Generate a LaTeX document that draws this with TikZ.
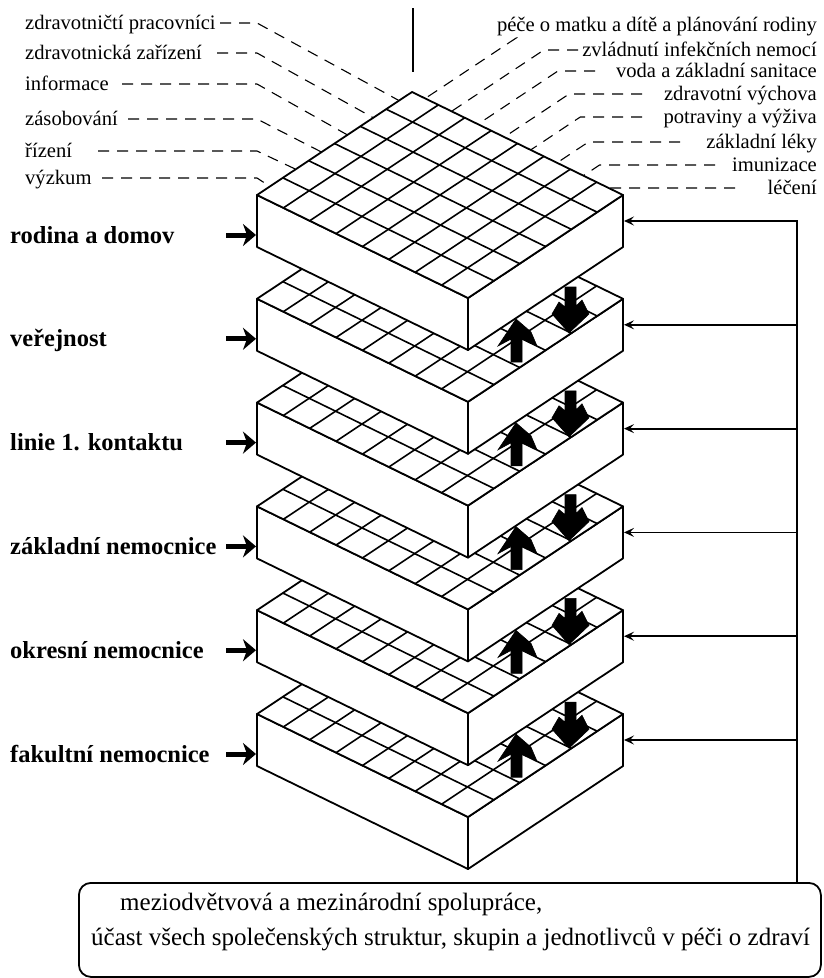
\documentclass[tikz,border=0pt]{standalone}
\usepackage{fontspec}
\setmainfont{Liberation Serif}
\usetikzlibrary{arrows.meta}
\begin{document}
\begin{tikzpicture}[x=1pt,y=-1pt,
  edge/.style={line width=1.8pt, line join=round},
  gridline/.style={line width=1.6pt},
  leader/.style={line width=1.1pt, dash pattern=on 11pt off 8pt},
  smalllab/.style={font=\fontsize{20.6}{23}\selectfont, inner sep=0pt},
  levellab/.style={font=\fontsize{24.5}{27}\selectfont\bfseries, inner sep=0pt, anchor=base west},
  boxtext/.style={font=\fontsize{25}{27}\selectfont, inner sep=0pt, anchor=base west},
  inarrow/.style={line width=5pt, -{Stealth[length=13pt,width=22pt,inset=4pt]}},
  feedarrow/.style={line width=1.8pt, -{Stealth[length=10pt,width=9pt,inset=4pt]}},
  blockarrow/.style={fill=black, draw=black, line width=0.6pt, line join=miter},
  bus/.style={line width=2.6pt, line cap=rect},
  framebox/.style={draw, line width=1.8pt, rounded corners=12pt, inner sep=0pt}
]
\useasboundingbox (0,0) rectangle (823,978);

% ---- slabs, drawn from the bottom one up ----
\foreach \k in {5,4,3,2,1,0}{
  \pgfmathsetmacro\dy{103.8*\k}
  \begin{scope}[shift={(0,\dy)}]
    \filldraw[fill=white, edge] (468,298) -- (257,195) -- (257,247) -- (468,350) -- cycle;
    \filldraw[fill=white, edge] (468,298) -- (623,195) -- (623,247) -- (468,350) -- cycle;
    \fill[white] (468,298) -- (257,195) -- (412,92) -- (623,195) -- cycle;
    \foreach \i in {1,...,7} {\draw[gridline] ({468-211*\i/8},{298-103*\i/8}) -- ++(155,-103);}
    \foreach \j in {1,...,5} {\draw[gridline] ({468+155*\j/6},{298-103*\j/6}) -- ++(-211,-103);}
    \draw[edge] (468,298) -- (257,195) -- (412,92) -- (623,195) -- cycle;
    \coordinate (F\k) at (468,298);
    \coordinate (L\k) at (257,195);
    \coordinate (T\k) at (412,92);
    \coordinate (R\k) at (623,195);
  \end{scope}
  \ifnum\k>0
    \pgfmathsetmacro\ay{103.8*(\k-1)}
    \begin{scope}[shift={(0,\ay)}]
      \filldraw[blockarrow] (516,319) -- (531,332) -- (537,346) -- (522,339) -- (522,362) -- (511,362) -- (511,339) -- (498,346) -- cycle;
      \filldraw[blockarrow] (565,287) -- (576,287) -- (576,306) -- (582,300) -- (589,314) -- (569,333) -- (552,314) -- (559,302) -- (565,307) -- cycle;
    \end{scope}
  \fi
}

% ---- vertical line at the top ----
\coordinate (tin0) at (413,8);
\coordinate (tin1) at (413,72);
\draw[edge] (tin0) -- (tin1);

% ---- level labels and inward arrows ----
\foreach \k/\t in {0/{rodina a domov},1/{veřejnost},2/{linie 1. kontaktu},3/{základní nemocnice},4/{okresní nemocnice},5/{fakultní nemocnice}}{
  \pgfmathsetmacro\ly{235+103.8*\k}
  \node[levellab] (lv\k) at (10,\ly+8) {\t};
  \coordinate (ls\k) at (226,\ly);
  \coordinate (le\k) at (256,\ly);
  \draw[inarrow] (ls\k) -- (le\k);
}

% ---- bottom box ----
\node[framebox, minimum width=742pt, minimum height=94pt, anchor=north west] (box) at (78,882) {};
\node[boxtext] (bt1) at (120,910) {meziodvětvová a mezinárodní spolupráce,};
\node[boxtext] (bt2) at (91,945) {účast všech společenských struktur, skupin a jednotlivců v péči o zdraví};

% ---- feedback bus and arrows ----
\coordinate (bustop) at (797,221);
\draw[bus] (bustop) -- (bustop |- box.north);
\foreach \k in {0,...,5}{
  \pgfmathsetmacro\ry{221+103.8*\k}
  \coordinate (bs\k) at (797,\ry);
  \coordinate (rs\k) at (624,\ry);
  \draw[feedarrow] (bs\k) -- (rs\k);
}

% ---- left top labels with dashed leaders ----
\foreach \n/\yl/\xs/\t in {1/23/220/{zdravotničtí pracovníci},2/53/217/{zdravotnická zařízení},3/84/122/{informace},4/119/128/{zásobování},5/151/98/{řízení},6/178/102/{výzkum}}{
  \pgfmathsetmacro\ex{257+155*(6.5-\n)/6}
  \pgfmathsetmacro\ey{195-103*(6.5-\n)/6}
  \node[smalllab, anchor=base west] (tl\n) at (25,\yl+6) {\t};
  \coordinate (ts\n) at (\xs,\yl);
  \coordinate (tb\n) at (257,\yl);
  \coordinate (te\n) at (\ex,\ey);
  \draw[leader] (ts\n) -- (tb\n) -- (te\n);
}

% ---- right top labels with dashed leaders ----
\foreach \j/\ty/\yl/\xe/\t in {0/25/38/516/{péče o matku a dítě a plánování rodiny},1/50/50/578/{zvládnutí infekčních nemocí},2/71/71/595/{voda a základní sanitace},3/94/94/642/{zdravotní výchova},4/117/117/642/{potraviny a výživa},5/142/142/680/{základní léky},6/165/165/715/{imunizace},7/188/188/735/{léčení}}{
  \pgfmathsetmacro\ex{412+211*(\j+0.5)/8}
  \pgfmathsetmacro\ey{92+103*(\j+0.5)/8}
  \pgfmathsetmacro\bx{\ex+(\ey-\yl)*155/103}
  \node[smalllab, anchor=base east] (rl\j) at (817,\ty+6) {\t};
  \coordinate (rh\j) at (\xe,\yl);
  \coordinate (rb\j) at (\bx,\yl);
  \coordinate (re\j) at (\ex,\ey);
  \draw[leader] (rh\j) -- (rb\j) -- (re\j);
}
\end{tikzpicture}
\end{document}
